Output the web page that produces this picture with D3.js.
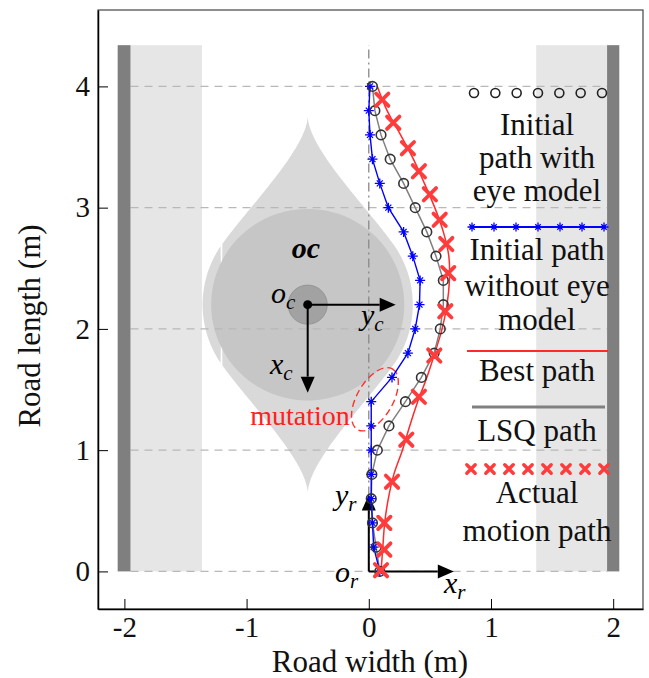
<!DOCTYPE html>
<html>
<head>
<meta charset="utf-8">
<script src="https://cdn.jsdelivr.net/npm/d3@7"></script>
<style>
  body { margin: 0; background: #fff; }
  svg { display: block; font-family: "Liberation Serif", "Times New Roman", serif; }
</style>
</head>
<body>
<svg id="chart" width="649" height="678"></svg>
<script>
// ---- data (metres) ----
const xTicks = [-2, -1, 0, 1, 2];
const yTicks = [0, 1, 2, 3, 4];

// sample heights along the road for the initial paths
const pathY = [0, 0.2, 0.4, 0.6, 0.8, 1.0, 1.2, 1.4, 1.6, 1.8, 2.0, 2.2, 2.4, 2.6, 2.8, 3.0, 3.2, 3.4, 3.6, 3.8, 4.0];
// initial path without eye model (blue *)
const noEyeX = [0.09, 0.04, 0.03, 0.02, 0.02, 0.02, 0.02, 0.02, 0.19, 0.32, 0.38, 0.415, 0.42, 0.36, 0.285, 0.16, 0.09, 0.03, 0.01, 0.0, 0.01];
// initial path with eye model (black o) / LSQ path (gray)
const withEyeX = [0.09, 0.06, 0.03, 0.02, 0.025, 0.07, 0.165, 0.30, 0.43, 0.535, 0.585, 0.61, 0.61, 0.55, 0.475, 0.38, 0.285, 0.175, 0.10, 0.05, 0.03];
// best path (red line)
const bestX = [0.10, 0.115, 0.13, 0.16, 0.205, 0.275, 0.335, 0.40, 0.475, 0.54, 0.60, 0.64, 0.66, 0.655, 0.61, 0.54, 0.455, 0.365, 0.26, 0.15, 0.07];
// actual motion path (red x)
const actualX = [0.10, 0.127, 0.127, 0.19, 0.307, 0.41, 0.536, 0.626, 0.65, 0.634, 0.58, 0.50, 0.41, 0.32, 0.20, 0.11];
const actualY = [0.01, 0.18, 0.40, 0.74, 1.086, 1.44, 1.78, 2.145, 2.46, 2.70, 2.90, 3.11, 3.30, 3.49, 3.70, 3.89];

// road edges
const roadTop = 4.34;
const lightStrips = [[-1.95, -1.365], [1.37, 1.95]];
const darkStrips = [[-2.055, -1.95], [1.95, 2.05]];

// eye model: centre, outer radius, inner radius, core radius, tip distance
const eyeCenter = [-0.5, 2.2];
const eyeR = [0.86, 0.79, 0.16];
const eyeTip = 1.55;

const legendRows = [
  { kind: "circle", y: 93, x0: 474, x1: 602, n: 7 },
  { kind: "blue", y: 227, x0: 472, x1: 604, n: 7 },
  { kind: "red", y: 351, x0: 467, x1: 608 },
  { kind: "gray", y: 407, x0: 472, x1: 605 },
  { kind: "cross", y: 469, x0: 471, x1: 604, n: 8 }
];
const legendText = [
  ["Initial", 135], ["path with", 168], ["eye model", 201],
  ["Initial path", 260], ["without eye", 296], ["model", 330],
  ["Best path", 381], ["LSQ path", 441],
  ["Actual", 503], ["motion path", 541]
];

// ---- layout ----
const svg = d3.select("#chart");
const x = d3.scaleLinear().domain([-2.216, 2.244]).range([98, 643]);
const y = d3.scaleLinear().domain([-0.31, 4.63]).range([609, 10]);

// road light strips
svg.append("g").selectAll("rect").data(lightStrips).join("rect")
  .attr("x", d => x(d[0])).attr("width", d => x(d[1]) - x(d[0]))
  .attr("y", y(roadTop)).attr("height", y(0) - y(roadTop))
  .attr("fill", "#e6e6e6");

// eye model outline: cusp tips top/bottom + circle
function bez(p, t) {
  const u = 1 - t;
  return [
    u*u*u*p[0][0] + 3*u*u*t*p[1][0] + 3*u*t*t*p[2][0] + t*t*t*p[3][0],
    u*u*u*p[0][1] + 3*u*u*t*p[1][1] + 3*u*t*t*p[2][1] + t*t*t*p[3][1]
  ];
}
const a0 = Math.atan2(0.503, 0.698);
const T = [eyeR[0] * Math.cos(a0), eyeR[0] * Math.sin(a0)];
const ctrl = [[0, eyeTip], [0.015, 1.28], [T[0] - 0.234, T[1] + 0.325], T];
const pts = [];
const N = 40;
for (let i = 0; i <= N; i++) pts.push(bez(ctrl, i / N));
for (let i = 1; i < N; i++) { const a = a0 - 2 * a0 * i / N; pts.push([eyeR[0]*Math.cos(a), eyeR[0]*Math.sin(a)]); }
for (let i = N; i >= 0; i--) { const p = bez(ctrl, i / N); pts.push([p[0], -p[1]]); }
for (let i = 1; i <= N; i++) { const p = bez(ctrl, i / N); pts.push([-p[0], -p[1]]); }
for (let i = 1; i < N; i++) { const a = Math.PI + a0 - 2 * a0 * i / N; pts.push([eyeR[0]*Math.cos(a), -eyeR[0]*Math.sin(a)]); }
for (let i = N; i >= 0; i--) { const p = bez(ctrl, i / N); pts.push([-p[0], p[1]]); }

svg.append("path")
  .attr("d", d3.line().x(d => x(eyeCenter[0] + d[0])).y(d => y(eyeCenter[1] + d[1]))(pts) + "Z")
  .attr("fill", "#d9d9d9");
const circPts = d3.range(0, 361, 4).map(a => [Math.cos(a * Math.PI / 180), Math.sin(a * Math.PI / 180)]);
svg.append("path")
  .attr("d", d3.line().x(d => x(eyeCenter[0] + eyeR[1] * d[0])).y(d => y(eyeCenter[1] + eyeR[1] * d[1]))(circPts) + "Z")
  .attr("fill", "#c6c6c6");
svg.append("circle")
  .attr("cx", x(eyeCenter[0])).attr("cy", y(eyeCenter[1]))
  .attr("r", x(eyeR[2]) - x(0))
  .attr("fill", "#a2a2a2").attr("stroke", "#959595").attr("stroke-width", 1);

// grid
svg.append("g").selectAll("line").data(yTicks).join("line")
  .attr("x1", x(-1.95)).attr("x2", x(1.95))
  .attr("y1", d => y(d)).attr("y2", d => y(d))
  .attr("stroke", "#b8b8b8").attr("stroke-width", 1.3).attr("stroke-dasharray", "8,6");
svg.append("line")
  .attr("x1", x(0)).attr("x2", x(0)).attr("y1", y(0)).attr("y2", y(roadTop))
  .attr("stroke", "#888").attr("stroke-width", 1.3).attr("stroke-dasharray", "9,4,2,4");

// dark road edges
svg.append("g").selectAll("rect").data(darkStrips).join("rect")
  .attr("x", d => x(d[0])).attr("width", d => x(d[1]) - x(d[0]))
  .attr("y", y(roadTop)).attr("height", y(0) - y(roadTop))
  .attr("fill", "#7f7f7f");

// mutation ellipse
svg.append("ellipse")
  .attr("transform", `translate(${x(0.05)},${y(1.42)}) rotate(-60)`)
  .attr("rx", 35).attr("ry", 18)
  .attr("fill", "none").attr("stroke", "#ff3030").attr("stroke-width", 1.4)
  .attr("stroke-dasharray", "7,4");

// arrows
function arrow(x1, y1, x2, y2) {
  const g = svg.append("g");
  const ang = Math.atan2(y2 - y1, x2 - x1);
  const hl = 16, hw = 7;
  const bx = x2 - hl * Math.cos(ang), by = y2 - hl * Math.sin(ang);
  g.append("line").attr("x1", x1).attr("y1", y1).attr("x2", bx).attr("y2", by)
    .attr("stroke", "#000").attr("stroke-width", 2);
  g.append("path")
    .attr("d", `M${x2},${y2}L${bx - hw*Math.sin(ang)},${by + hw*Math.cos(ang)}L${bx + hw*Math.sin(ang)},${by - hw*Math.cos(ang)}Z`)
    .attr("fill", "#000");
}
const cx0 = x(eyeCenter[0]), cy0 = y(eyeCenter[1]);
arrow(cx0, cy0, cx0 + 88, cy0);
arrow(cx0, cy0, cx0, cy0 + 88);
svg.append("circle").attr("cx", cx0).attr("cy", cy0).attr("r", 4.5).attr("fill", "#000");
arrow(x(0), y(0), x(0) + 85, y(0));
arrow(x(0), y(0), x(0), y(0) - 77);

// paths
const lineXY = d3.line().x(d => x(d[0])).y(d => y(d[1]));
const eyePts = withEyeX.map((v, i) => [v, pathY[i]]);
const noEyePts = noEyeX.map((v, i) => [v, pathY[i]]);
const bestPts = bestX.map((v, i) => [v, pathY[i]]);
const actPts = actualX.map((v, i) => [v, actualY[i]]);

svg.append("path").attr("d", d3.line().x(d => x(d[0])).y(d => y(d[1])).curve(d3.curveCatmullRom)(bestPts))
  .attr("fill", "none").attr("stroke", "#ff2a2a").attr("stroke-width", 1.5);
svg.append("path").attr("d", lineXY(eyePts))
  .attr("fill", "none").attr("stroke", "#808080").attr("stroke-width", 1.5);
svg.append("path").attr("d", lineXY(noEyePts))
  .attr("fill", "none").attr("stroke", "#0000ff").attr("stroke-width", 1.4);

const starPath = s => `M${-s},0H${s}M0,${-s}V${s}M${-s*0.6},${-s*0.6}L${s*0.6},${s*0.6}M${-s*0.6},${s*0.6}L${s*0.6},${-s*0.6}`;
const crossPath = s => `M${-s},${-s}L${s},${s}M${-s},${s}L${s},${-s}`;

svg.append("g").selectAll("path").data(noEyePts).join("path")
  .attr("transform", d => `translate(${x(d[0])},${y(d[1])})`)
  .attr("d", starPath(5)).attr("stroke", "#0000ff").attr("stroke-width", 1.3).attr("fill", "none");
svg.append("g").selectAll("circle").data(eyePts).join("circle")
  .attr("cx", d => x(d[0])).attr("cy", d => y(d[1])).attr("r", 4.8)
  .attr("fill", "none").attr("stroke", "#333").attr("stroke-width", 1.6);
svg.append("g").selectAll("path").data(actPts).join("path")
  .attr("transform", d => `translate(${x(d[0])},${y(d[1])})`)
  .attr("d", crossPath(6.2)).attr("stroke", "#ff3b3b").attr("stroke-width", 3.8)
  .attr("stroke-linecap", "round").attr("fill", "none");

// annotations
function sublabel(px, py, main, sub) {
  const t = svg.append("text").attr("x", px).attr("y", py)
    .attr("font-size", 30).attr("font-style", "italic").attr("fill", "#000");
  t.append("tspan").text(main);
  t.append("tspan").attr("font-size", 21).attr("dy", 6).text(sub);
}
sublabel(271, 303, "o", "c");
sublabel(361, 325, "y", "c");
sublabel(270, 374, "x", "c");
sublabel(335, 582, "o", "r");
sublabel(335, 505, "y", "r");
sublabel(444, 593, "x", "r");
svg.append("text").attr("x", 306).attr("y", 258).attr("text-anchor", "middle")
  .attr("font-size", 30).attr("font-style", "italic").attr("font-weight", "bold").text("oc");
svg.append("text").attr("x", 300).attr("y", 425).attr("text-anchor", "middle")
  .attr("font-size", 28).attr("fill", "#ff2020").text("mutation");

// legend
legendRows.forEach(r => {
  const g = svg.append("g");
  if (r.kind === "red" || r.kind === "gray" || r.kind === "blue") {
    g.append("line").attr("x1", r.x0).attr("x2", r.x1).attr("y1", r.y).attr("y2", r.y)
      .attr("stroke", r.kind === "red" ? "#ff2a2a" : r.kind === "gray" ? "#808080" : "#0000ff")
      .attr("stroke-width", r.kind === "gray" ? 3 : 2);
  }
  if (r.n) {
    const xs = d3.range(r.n).map(i => r.x0 + (r.x1 - r.x0) * i / (r.n - 1));
    if (r.kind === "circle") {
      g.selectAll("circle").data(xs).join("circle").attr("cx", d => d).attr("cy", r.y).attr("r", 4.5)
        .attr("fill", "none").attr("stroke", "#222").attr("stroke-width", 1.6);
    } else if (r.kind === "blue") {
      g.selectAll("path").data(xs).join("path").attr("transform", d => `translate(${d},${r.y})`)
        .attr("d", starPath(4.5)).attr("stroke", "#0000ff").attr("stroke-width", 1.3);
    } else {
      g.selectAll("path").data(xs).join("path").attr("transform", d => `translate(${d},${r.y})`)
        .attr("d", crossPath(4.2)).attr("stroke", "#ff3b3b").attr("stroke-width", 3.4).attr("stroke-linecap", "round");
    }
  }
});
svg.append("g").selectAll("text").data(legendText).join("text")
  .attr("x", 537).attr("y", d => d[1]).attr("text-anchor", "middle")
  .attr("font-size", 31).attr("fill", "#111").text(d => d[0]);

// frame and axes
svg.append("rect").attr("x", 98).attr("y", 10).attr("width", 545).attr("height", 599)
  .attr("fill", "none").attr("stroke", "#444").attr("stroke-width", 1.2);
svg.append("g").attr("transform", "translate(0,609)")
  .call(d3.axisBottom(x).tickValues(xTicks).tickSizeInner(-10).tickSizeOuter(0).tickPadding(7).tickFormat(d => String(d)))
  .call(g => g.select(".domain").attr("stroke-width", 1.5))
  .call(g => g.selectAll("text").attr("font-size", 29).attr("font-family", "Liberation Serif").attr("fill", "#111"));
svg.append("g").attr("transform", "translate(98,0)")
  .call(d3.axisLeft(y).tickValues(yTicks).tickSizeInner(-10).tickSizeOuter(0).tickPadding(8).tickFormat(d => String(d)))
  .call(g => g.select(".domain").attr("stroke-width", 1.5))
  .call(g => g.selectAll("text").attr("font-size", 29).attr("font-family", "Liberation Serif").attr("fill", "#111"));

svg.append("text").attr("x", 370).attr("y", 672).attr("text-anchor", "middle")
  .attr("font-size", 31).attr("fill", "#111").text("Road width (m)");
svg.append("text").attr("transform", "translate(40,326) rotate(-90)").attr("text-anchor", "middle")
  .attr("font-size", 31).attr("fill", "#111").text("Road length (m)");
</script>
</body>
</html>
